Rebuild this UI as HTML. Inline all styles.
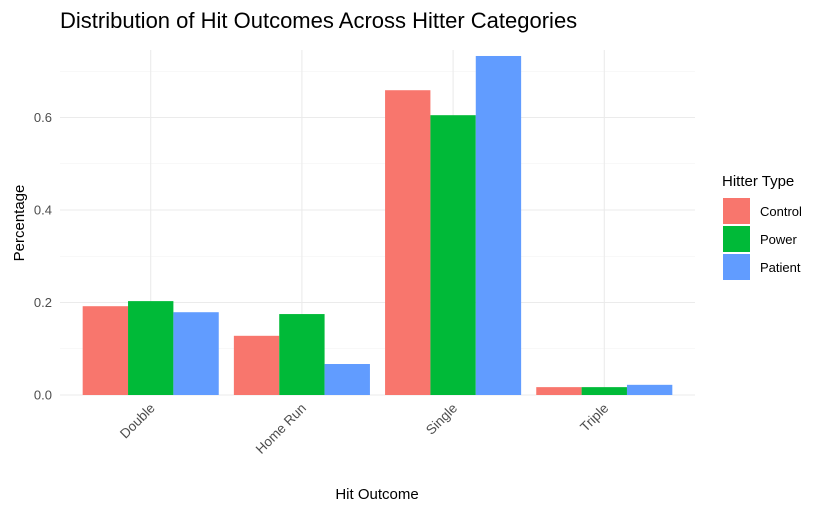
<!DOCTYPE html>
<html><head><meta charset="utf-8"><style>
body{margin:0;background:#fff;font-family:"Liberation Sans",Arial,sans-serif}
</style></head><body>
<svg width="830" height="512" xmlns="http://www.w3.org/2000/svg" font-family="Liberation Sans, Arial, sans-serif">
<text x="60" y="28" font-size="22" fill="#000">Distribution of Hit Outcomes Across Hitter Categories</text>
<g id="grid"></g>
<g id="bars"></g>
<g id="axes"></g>
<text x="377" y="499" font-size="15" text-anchor="middle" fill="#000">Hit Outcome</text>
<text transform="translate(24,223) rotate(-90)" font-size="15" text-anchor="middle" fill="#000">Percentage</text>
<g id="legend">
<text x="722" y="186" font-size="15" fill="#000">Hitter Type</text>
</g>
</svg>
<script>
const categories=["Double","Home Run","Single","Triple"];
const seriesNames=["Control","Power","Patient"];
const control=[0.192,0.128,0.659,0.017];
const power=[0.203,0.175,0.605,0.017];
const patient=[0.179,0.067,0.733,0.022];
const yTicks=[0,0.2,0.4,0.6];
const yTickLabels=["0.0","0.2","0.4","0.6"];
const colors=["#F8766D","#00BA38","#619CFF"];
const series=[control,power,patient];
const NS="http://www.w3.org/2000/svg";
const px0=60,px1=695,py0=395,pyTop=50;
const yScale=v=>py0-v*462.5;
const step=(px1-px0)/(categories.length+0.2);
const xScale=i=>px0+step*(0.6+i);
function mk(tag,attrs,parent){const e=document.createElementNS(NS,tag);for(const k in attrs)e.setAttribute(k,attrs[k]);parent.appendChild(e);return e;}
const grid=document.getElementById('grid'),bars=document.getElementById('bars'),axes=document.getElementById('axes'),legend=document.getElementById('legend');
for(let v=0.1;v<0.75;v+=0.2){const l=mk('line',{x1:px0,x2:px1,y1:yScale(v),y2:yScale(v),stroke:'#f2f2f2','stroke-width':0.6},grid);

}
yTicks.forEach((v,i)=>{const l=mk('line',{x1:px0,x2:px1,y1:yScale(v),y2:yScale(v),stroke:'#ebebeb','stroke-width':1.1},grid);


const t=mk('text',{x:52,y:yScale(v)+4.5,'font-size':13,'text-anchor':'end',fill:'#4d4d4d'},axes);t.textContent=yTickLabels[i];

});
categories.forEach((c,i)=>{const x=xScale(i);
const l=mk('line',{x1:x,x2:x,y1:pyTop,y2:py0,stroke:'#ebebeb','stroke-width':1.1},grid);


const t=mk('text',{transform:`translate(${x+5},${py0+14}) rotate(-45)`,'font-size':13.5,'text-anchor':'end',fill:'#4d4d4d'},axes);t.textContent=c;


const bw=step*0.9/3;
series.forEach((s,j)=>{const y=yScale(s[i]);
const r=mk('rect',{x:x-step*0.45+j*bw,y:y,width:bw,height:py0-y,fill:colors[j]},bars);

});});
seriesNames.forEach((n,j)=>{const y=198+j*28;
const r=mk('rect',{x:723,y:y,width:27,height:26,fill:colors[j]},legend);


const t=mk('text',{x:760,y:y+18,'font-size':13,fill:'#000'},legend);t.textContent=n;

});
</script>
</body></html>
